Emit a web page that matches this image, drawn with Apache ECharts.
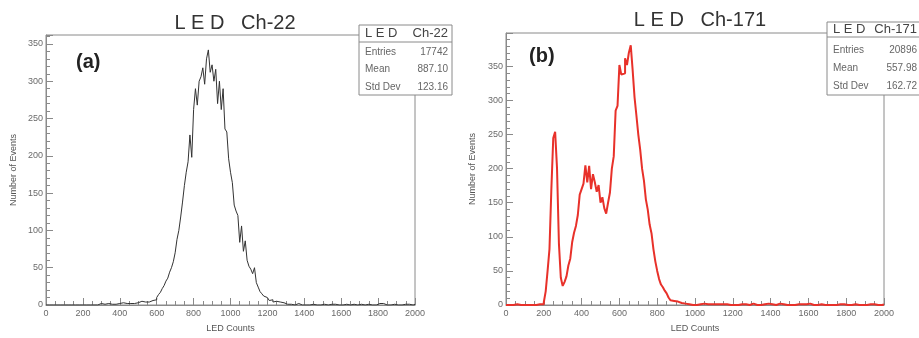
<!DOCTYPE html>
<html>
<head>
<meta charset="utf-8">
<script src="https://cdn.jsdelivr.net/npm/echarts@6/dist/echarts.min.js"></script>
<style>
  html, body { margin: 0; padding: 0; background: #fff; }
  #chart { width: 919px; height: 338px; }
</style>
</head>
<body>
<div id="chart"></div>
<script>
// LED histograms, 10-count bins from 0 to 2000
const BIN_WIDTH = 10;

// Ch-22: bins 0..1990
const ledCh22 = [
  0,0,0,0,0,0,0,0,0,0, 0,0,0,0,0,0,0,0,0,0, 0,0,0,0,0,
  0,1,0,1,2,0,1,1,2,1,
  1,2,1,0,2,1,3,1,2,1,
  2,3,2,4,3,2,5,3,4,6,
  4,5,6,8,7,10,14,17,22,26,
  32,36,44,50,58,70,88,100,118,138,
  160,178,192,228,198,262,290,268,300,306,
  318,296,330,342,312,322,300,316,270,300,
  262,290,236,232,196,178,164,134,126,120,
  84,106,72,86,60,52,48,42,50,30,
  24,18,15,12,10,8,6,7,4,5,
  3,4,2,3,2,1,2,1,2,0,
  1,2,1,0,1,0,1,0,0,1,
  0,0,1,0,0,1,2,0,0,1,
  0,1,0,0,1,0,0,1,0,0,
  2,1,0,0,0,1,2,0,0,1,
  0,0,1,0,0,2,1,2,1,0,
  1,0,0,1,0,0,1,0,0,1,
  0,1,0,0,1
];

// Ch-171: bins 0..1990
const ledCh171 = [
  0,0,0,0,0,1,0,0,0,0,
  0,0,1,0,0,0,0,1,0,1,
  4,20,50,82,170,245,254,200,90,40,
  28,34,42,58,68,92,106,116,132,162,
  170,178,205,180,204,170,192,180,166,176,
  150,158,142,134,150,165,200,218,285,292,
  352,338,340,362,352,370,381,345,305,278,
  250,228,200,182,155,140,118,105,82,64,
  50,38,30,26,21,17,11,7,6,4,
  5,3,3,2,2,1,1,2,0,1,
  0,1,1,0,2,3,1,0,1,0,
  1,0,1,0,1,2,1,0,0,1,
  0,1,0,0,1,0,1,0,0,1,
  2,1,0,1,0,0,1,0,2,1,
  1,0,0,1,2,0,1,0,0,1,
  0,1,0,0,1,0,1,0,1,0,
  2,1,0,1,0,0,1,0,0,1,
  0,1,0,1,0,0,1,0,1,0,
  0,1,0,0,1,0,0,1,0,1,
  0,0,1,0,1,0,0,1,0,1
];

const statsCh22 = [['Entries', '17742'], ['Mean', '887.10'], ['Std Dev', '123.16']];
const statsCh171 = [['Entries', '20896'], ['Mean', '557.98'], ['Std Dev', '162.72']];

const FONT = '"Liberation Sans", Arial, sans-serif';
const AXIS_GREY = '#8a8a8a';
const LABEL_GREY = '#6a6a6a';

// bin left edges + closing point so the last step is drawn
function toSteps(values) {
  const pts = values.map((v, i) => [i * BIN_WIDTH, v]);
  pts.push([values.length * BIN_WIDTH, values[values.length - 1]]);
  return pts;
}

function xAxisFor(gridIndex) {
  return {
    gridIndex, type: 'value', min: 0, max: 2000, interval: 200,
    name: 'LED Counts', nameLocation: 'middle', nameGap: 19,
    nameTextStyle: { fontFamily: FONT, fontSize: 9, color: '#555' },
    axisLine: { lineStyle: { color: AXIS_GREY } },
    axisTick: { inside: true, length: 7, lineStyle: { color: AXIS_GREY } },
    minorTick: { show: true, splitNumber: 4, length: 4, lineStyle: { color: AXIS_GREY } },
    axisLabel: { fontFamily: FONT, fontSize: 9, color: LABEL_GREY, margin: 4, formatter: (v) => String(v) },
    splitLine: { show: false },
  };
}

function yAxisFor(gridIndex, max, gap) {
  return {
    gridIndex, type: 'value', min: 0, max, interval: 50,
    name: 'Number of Events', nameLocation: 'middle', nameGap: gap,
    nameTextStyle: { fontFamily: FONT, fontSize: 9, color: '#555' },
    axisLine: { show: true, lineStyle: { color: AXIS_GREY } },
    axisTick: { inside: true, length: 7, lineStyle: { color: AXIS_GREY } },
    minorTick: { show: true, splitNumber: 5, length: 4, lineStyle: { color: AXIS_GREY } },
    axisLabel: { fontFamily: FONT, fontSize: 9, color: LABEL_GREY, margin: 3, showMaxLabel: false },
    splitLine: { show: false },
  };
}

function statsBox(x, y, w, h, divY, header, rows, rowYs) {
  const els = [
    { type: 'rect', shape: { x, y, width: w, height: h },
      style: { fill: '#fff', stroke: '#8a8a8a', lineWidth: 1 }, z: 100 },
    { type: 'line', shape: { x1: x, y1: divY, x2: x + w, y2: divY },
      style: { stroke: '#8a8a8a', lineWidth: 1 }, z: 101 },
    { type: 'text', x: x + 6, y: (y + divY) / 2, z: 101,
      style: { text: 'L E D', font: '13px ' + FONT, fill: '#444', verticalAlign: 'middle' } },
    { type: 'text', x: x + w - 4, y: (y + divY) / 2, z: 101,
      style: { text: header, font: '13px ' + FONT, fill: '#444', align: 'right', verticalAlign: 'middle' } },
  ];
  rows.forEach((r, i) => {
    els.push({ type: 'text', x: x + 6, y: rowYs[i], z: 101,
      style: { text: r[0], font: '10px ' + FONT, fill: '#666', verticalAlign: 'middle' } });
    els.push({ type: 'text', x: x + w - 4, y: rowYs[i], z: 101,
      style: { text: r[1], font: '10px ' + FONT, fill: '#666', align: 'right', verticalAlign: 'middle' } });
  });
  return els;
}

const chart = echarts.init(document.getElementById('chart'), null, { renderer: 'canvas' });

chart.setOption({
  animation: false,
  backgroundColor: '#fff',
  title: [
    { text: 'L E D   Ch-22', left: 230, top: 8, textAlign: 'center',
      textStyle: { fontFamily: FONT, fontSize: 20, fontWeight: 'normal', color: '#333' } },
    { text: 'L E D   Ch-171', left: 695, top: 5, textAlign: 'center',
      textStyle: { fontFamily: FONT, fontSize: 20, fontWeight: 'normal', color: '#333' } },
    { text: '(a)', left: 71, top: 47,
      textStyle: { fontFamily: FONT, fontSize: 20, fontWeight: 'bold', color: '#222' } },
    { text: '(b)', left: 524, top: 41,
      textStyle: { fontFamily: FONT, fontSize: 20, fontWeight: 'bold', color: '#222' } },
  ],
  grid: [
    { left: 46, right: 504, top: 35, bottom: 32, show: true, borderColor: AXIS_GREY, borderWidth: 1 },
    { left: 506, right: 35, top: 33, bottom: 26, show: true, borderColor: AXIS_GREY, borderWidth: 1 },
  ],
  xAxis: [xAxisFor(0), xAxisFor(1)],
  yAxis: [yAxisFor(0, 362, 28), yAxisFor(1, 399, 29)],
  series: [
    { name: 'Ch-22', type: 'line', xAxisIndex: 0, yAxisIndex: 0, step: 'end',
      symbol: 'none', data: toSteps(ledCh22),
      lineStyle: { color: '#333', width: 1 } },
    { name: 'Ch-171', type: 'line', xAxisIndex: 1, yAxisIndex: 1, step: 'end',
      symbol: 'none', data: toSteps(ledCh171),
      lineStyle: { color: '#e8312a', width: 2 } },
  ],
  graphic: [
    ...statsBox(359, 25, 93, 70, 42, 'Ch-22', statsCh22, [52, 69, 87]),
    ...statsBox(827, 22, 94, 73, 37, 'Ch-171', statsCh171, [50, 68, 86]),
  ],
});
</script>
</body>
</html>
